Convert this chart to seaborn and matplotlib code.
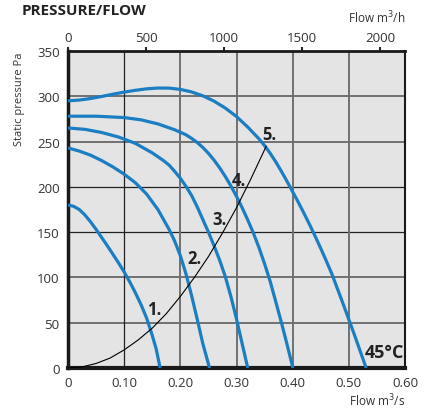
import pandas as pd
import matplotlib.pyplot as plt
import numpy as np
import seaborn as sns

# fan curves, flow in m3/s and static pressure in Pa
q1 = [0, 0.01, 0.02, 0.03, 0.04, 0.05, 0.06, 0.07, 0.08, 0.09, 0.10, 0.11, 0.12, 0.13, 0.14, 0.15, 0.157, 0.164]
p1 = [180, 178.5, 175, 169, 161.5, 153, 144, 135, 125.5, 116, 106, 95, 83, 70, 55, 36, 21, 0]
q2 = [0, 0.02, 0.04, 0.06, 0.08, 0.10, 0.12, 0.14, 0.16, 0.18, 0.19, 0.20, 0.21, 0.22, 0.23, 0.24, 0.252]
p2 = [243, 239.5, 235, 229, 222, 214, 204.5, 192, 175, 153, 140, 124, 104, 80, 54, 27, 0]
q3 = [0, 0.03, 0.06, 0.09, 0.12, 0.15, 0.17, 0.18, 0.19, 0.20, 0.21, 0.22, 0.23, 0.24, 0.25, 0.26,
      0.27, 0.28, 0.29, 0.30, 0.31, 0.32]
p3 = [265, 263.5, 260, 255, 248, 237.5, 229, 224, 217, 209.5, 200.5, 190.5, 178, 164, 150, 135,
      119, 101, 79, 54, 27, 0]
q4 = [0, 0.05, 0.10, 0.13, 0.16, 0.19, 0.21, 0.22, 0.23, 0.24, 0.25, 0.26, 0.27, 0.28, 0.29, 0.30,
      0.31, 0.32, 0.33, 0.34, 0.35, 0.36, 0.37, 0.38, 0.39, 0.40, 0.401]
p4 = [278, 278, 276.5, 274, 269.5, 263, 257.5, 253.5, 249, 243.5, 237, 229.5, 221, 211.5, 201, 189.5,
      177, 163.5, 149, 133, 115, 95.5, 73, 50, 26, 1, 0]
q5 = [0, 0.02, 0.04, 0.06, 0.08, 0.10, 0.12, 0.14, 0.16, 0.18, 0.20, 0.22, 0.24, 0.26, 0.28, 0.30,
      0.32, 0.34, 0.35, 0.36, 0.37, 0.38, 0.39, 0.40, 0.41, 0.42, 0.43, 0.44, 0.45, 0.46, 0.47,
      0.48, 0.49, 0.50, 0.51, 0.52, 0.53, 0.531]
p5 = [295, 295.8, 297.5, 299.8, 302.3, 304.6, 306.6, 308.2, 309.1, 309, 307.6, 304.8, 300.5, 294.6,
      287, 277.6, 266, 253, 245.5, 237, 227.5, 217, 206, 194.5, 183, 171, 158.5, 145.5, 132, 118,
      103.5, 87, 70.5, 53.5, 36.5, 19, 1.5, 0]

# system curve
qs = [0, 0.025, 0.05, 0.075, 0.1, 0.125, 0.15, 0.175, 0.2, 0.225, 0.25, 0.275, 0.3, 0.325, 0.353]
ps = [0, 1.2, 5, 11, 20, 31, 44, 60, 79, 100, 123, 149, 177, 208, 245]

labels = ["1.", "2.", "3.", "4.", "5."]
label_q = [0.1535, 0.226, 0.270, 0.305, 0.358]
label_p = [65, 121, 164, 208, 258]

frames = []
for name, q, p in zip(labels, [q1, q2, q3, q4, q5], [p1, p2, p3, p4, p5]):
    frames.append(pd.DataFrame({"flow": q, "pressure": p, "fan": name}))
df = pd.concat(frames)

sns.set_style("white")
plt.rcParams['font.family'] = ['Open Sans', 'DejaVu Sans']

fig = plt.figure(figsize=(4.34, 4.10), dpi=100)
ax = fig.add_axes([0.1567, 0.1, 0.7765, 0.7732])
ax.set_facecolor("#e4e4e4")

# grid
for y in [50, 100, 250, 300]:
    ax.axhline(y, color="#707070", lw=1.4, zorder=1)
for y in [150, 200]:
    ax.axhline(y, color="#222222", lw=0.9, zorder=1)
for x in [0.2, 0.3, 0.4, 0.5]:
    ax.axvline(x, color="#707070", lw=1.4, zorder=1)
ax.axvline(0.1, color="#222222", lw=0.9, zorder=1)

sns.lineplot(data=df, x="flow", y="pressure", hue="fan", palette=["#1b7dc2"] * 5,
             sort=False, legend=False, lw=2.3, ax=ax, zorder=3,
             solid_joinstyle="round", solid_capstyle="butt")
sns.lineplot(x=qs, y=ps, color="black", lw=0.8, sort=False, ax=ax, zorder=4)

for t, x, y in zip(labels, label_q, label_p):
    ax.text(x, y, t, fontsize=12, fontweight="bold", color="#222222",
            ha="center", va="center", zorder=5)
ax.text(0.598, 18, "45°C", fontsize=13, fontweight="bold", color="#222222",
        ha="right", va="center", zorder=5)

ax.set_xlim(0, 0.6)
ax.set_ylim(0, 350)
ax.set_xticks([0, 0.1, 0.2, 0.3, 0.4, 0.5, 0.6])
ax.set_xticklabels(["0", "0.10", "0.20", "0.30", "0.40", "0.50", "0.60"])
ax.set_yticks(range(0, 351, 50))
ax.tick_params(axis="both", labelsize=9.5, labelcolor="#333333", length=4, width=1.5,
               direction="out", pad=2)
ax.set_xlabel("")
ax.set_ylabel("")

for s, w in [("left", 2.5), ("bottom", 3), ("top", 2), ("right", 1.5)]:
    ax.spines[s].set_linewidth(w)
    ax.spines[s].set_color("#1a1a1a")

top = ax.secondary_xaxis("top", functions=(lambda q: q * 3600, lambda h: h / 3600))
top.set_xticks([0, 500, 1000, 1500, 2000])
top.tick_params(labelsize=9.5, labelcolor="#333333", length=3, width=1.5, pad=2)

fig.text(22 / 434, 1 - 11 / 410, "PRESSURE/FLOW", fontsize=11, fontweight="bold",
         color="#222222", va="center", ha="left")
fig.text(405 / 434, 1 - 18 / 410, "Flow m$^3$/h", fontsize=8.5, color="#333333",
         ha="right", va="center")
fig.text(405 / 434, 1 - 401 / 410, "Flow m$^3$/s", fontsize=8.5, color="#333333",
         ha="right", va="center")
fig.text(20 / 434, 1 - 52 / 410, "Static pressure Pa", fontsize=8, color="#333333",
         rotation=90, ha="center", va="top")

plt.savefig("out.png", dpi=100)
